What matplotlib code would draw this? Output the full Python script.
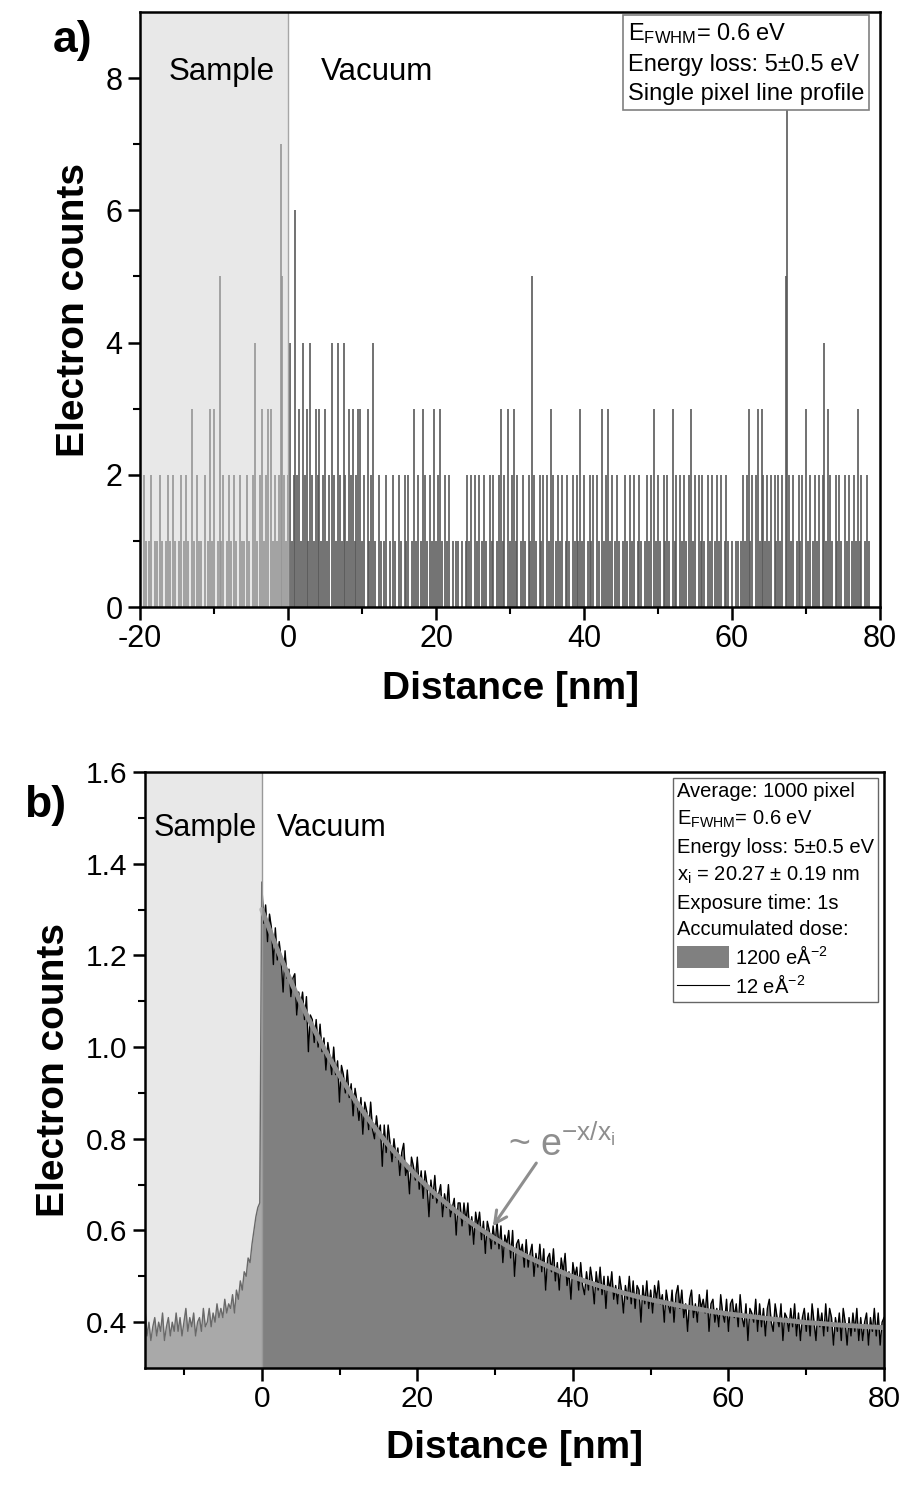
import numpy as np
import matplotlib
matplotlib.use('Agg')
import matplotlib.pyplot as plt
from matplotlib.patches import Patch
from matplotlib.lines import Line2D

plt.rcParams['font.family'] = ['Liberation Sans', 'DejaVu Sans']
plt.rcParams['mathtext.fontset'] = 'custom'
plt.rcParams['mathtext.rm'] = 'Liberation Sans'
plt.rcParams['mathtext.it'] = 'Liberation Sans'
plt.rcParams['axes.unicode_minus'] = False

# a) single pixel line profile, 0.25 nm steps from -20 nm
a_start, a_step = -20.0, 0.25
a_counts = [
    1, 0, 2, 1, 0, 1, 2, 0, 1, 1, 0, 2, 1, 0, 1, 2, 1, 0, 2, 1,
    0, 1, 2, 0, 1, 2, 1, 0, 3, 1, 0, 2, 1, 1, 0, 2, 0, 1, 3, 1,
    3, 0, 1, 5, 1, 2, 0, 1, 2, 1, 0, 2, 1, 0, 2, 1, 1, 0, 2, 1,
    0, 2, 4, 1, 0, 2, 3, 1, 2, 3, 0, 3, 1, 2, 1, 2, 7, 5, 2, 1,
    2, 4, 1, 2, 6, 2, 3, 1, 4, 2, 3, 1, 4, 2, 1, 3, 2, 3, 1, 2,
    3, 1, 2, 0, 4, 2, 1, 4, 2, 1, 4, 2, 1, 3, 2, 3, 1, 2, 3, 3,
    1, 2, 0, 3, 1, 2, 4, 1, 0, 2, 1, 0, 1, 2, 0, 1, 0, 2, 1, 0,
    2, 1, 0, 2, 1, 2, 0, 1, 3, 1, 2, 0, 1, 3, 2, 1, 0, 2, 1, 3,
    1, 2, 3, 1, 0, 2, 1, 2, 0, 1, 0, 1, 1, 0, 1, 0, 1, 2, 1, 2,
    0, 2, 1, 2, 0, 1, 2, 1, 0, 2, 1, 2, 0, 1, 2, 3, 1, 2, 0, 3,
    1, 2, 3, 1, 2, 0, 1, 2, 1, 0, 2, 1, 5, 2, 1, 0, 2, 1, 2, 0,
    2, 1, 3, 2, 0, 1, 2, 1, 2, 0, 1, 2, 1, 0, 2, 1, 2, 1, 3, 1,
    2, 0, 1, 2, 1, 2, 0, 2, 1, 0, 3, 1, 2, 3, 1, 2, 0, 1, 2, 1,
    0, 1, 2, 1, 0, 2, 1, 2, 0, 1, 2, 1, 0, 1, 2, 1, 2, 0, 3, 1,
    2, 1, 0, 2, 1, 2, 1, 0, 3, 1, 2, 0, 2, 1, 2, 1, 0, 2, 3, 1,
    2, 0, 2, 1, 2, 1, 0, 2, 1, 2, 0, 1, 2, 1, 2, 0, 1, 2, 1, 0,
    1, 0, 1, 1, 0, 1, 2, 1, 2, 3, 1, 2, 0, 2, 3, 1, 3, 2, 1, 2,
    1, 2, 0, 2, 1, 2, 1, 2, 0, 5, 8, 2, 1, 2, 0, 1, 2, 1, 2, 0,
    3, 1, 2, 0, 1, 2, 1, 2, 0, 2, 4, 1, 3, 2, 1, 0, 2, 1, 2, 1,
    0, 2, 1, 2, 0, 1, 2, 1, 3, 1, 2, 0, 1, 2, 1,
]

# b) averaged profile (12 e/A^2), 0.25 nm steps from -15 nm
b_start, b_step = -15.0, 0.25
b_sample = [
    0.43, 0.37, 0.40, 0.36, 0.39, 0.41, 0.37, 0.40, 0.38, 0.42, 0.36, 0.39,
    0.41, 0.37, 0.40, 0.38, 0.42, 0.38, 0.41, 0.37, 0.40, 0.43, 0.38, 0.41,
    0.39, 0.42, 0.37, 0.40, 0.41, 0.38, 0.43, 0.39, 0.40, 0.43, 0.39, 0.42,
    0.40, 0.44, 0.41, 0.43, 0.41, 0.45, 0.42, 0.44, 0.43, 0.46, 0.42, 0.47,
    0.45, 0.49, 0.47, 0.51, 0.50, 0.54, 0.53, 0.57, 0.60, 0.63, 0.65, 0.66,
]
b_vacuum = [
    1.36, 1.27, 1.31, 1.23, 1.29, 1.26, 1.18, 1.26, 1.19, 1.23, 1.19, 1.12, 1.21, 1.15, 1.17, 1.11, 1.15, 1.16, 1.07, 1.12,
    1.09, 1.12, 1.06, 1.11, 0.99, 1.07, 1.06, 1.01, 1.06, 1.00, 1.05, 0.99, 1.02, 0.95, 1.01, 0.98, 0.94, 1.00, 0.94, 0.97,
    0.88, 0.96, 0.94, 0.90, 0.95, 0.89, 0.92, 0.85, 0.91, 0.88, 0.84, 0.89, 0.81, 0.88, 0.86, 0.82, 0.88, 0.82, 0.80, 0.85,
    0.81, 0.83, 0.74, 0.83, 0.77, 0.83, 0.79, 0.75, 0.80, 0.76, 0.78, 0.72, 0.77, 0.79, 0.72, 0.74, 0.68, 0.76, 0.74, 0.71,
    0.76, 0.69, 0.73, 0.67, 0.73, 0.70, 0.63, 0.71, 0.67, 0.72, 0.66, 0.68, 0.70, 0.63, 0.68, 0.65, 0.70, 0.63, 0.65, 0.67,
    0.59, 0.66, 0.66, 0.61, 0.66, 0.62, 0.66, 0.59, 0.63, 0.57, 0.64, 0.61, 0.64, 0.58, 0.62, 0.55, 0.62, 0.60, 0.56, 0.61,
    0.57, 0.62, 0.56, 0.61, 0.53, 0.59, 0.57, 0.60, 0.54, 0.60, 0.50, 0.57, 0.58, 0.55, 0.57, 0.52, 0.58, 0.52, 0.55, 0.57,
    0.50, 0.55, 0.52, 0.57, 0.51, 0.56, 0.47, 0.54, 0.55, 0.51, 0.56, 0.49, 0.53, 0.47, 0.54, 0.51, 0.55, 0.48, 0.51, 0.45,
    0.53, 0.50, 0.52, 0.47, 0.53, 0.48, 0.46, 0.51, 0.47, 0.52, 0.49, 0.44, 0.51, 0.47, 0.52, 0.46, 0.50, 0.43, 0.50, 0.47,
    0.51, 0.45, 0.48, 0.44, 0.50, 0.47, 0.42, 0.48, 0.45, 0.50, 0.44, 0.49, 0.43, 0.48, 0.47, 0.40, 0.48, 0.44, 0.49, 0.43,
    0.47, 0.42, 0.48, 0.45, 0.49, 0.44, 0.46, 0.40, 0.47, 0.44, 0.42, 0.47, 0.40, 0.46, 0.48, 0.43, 0.47, 0.41, 0.44, 0.38,
    0.45, 0.47, 0.41, 0.44, 0.40, 0.46, 0.43, 0.45, 0.42, 0.47, 0.38, 0.44, 0.45, 0.40, 0.43, 0.39, 0.46, 0.42, 0.40, 0.45,
    0.38, 0.44, 0.45, 0.41, 0.44, 0.39, 0.46, 0.41, 0.39, 0.44, 0.36, 0.43, 0.42, 0.40, 0.45, 0.38, 0.44, 0.39, 0.43, 0.37,
    0.43, 0.45, 0.40, 0.38, 0.44, 0.41, 0.39, 0.44, 0.36, 0.42, 0.41, 0.38, 0.43, 0.39, 0.44, 0.37, 0.42, 0.36, 0.41, 0.43,
    0.38, 0.42, 0.37, 0.44, 0.40, 0.36, 0.43, 0.39, 0.42, 0.37, 0.44, 0.38, 0.43, 0.41, 0.35, 0.41, 0.38, 0.42, 0.36, 0.43,
    0.40, 0.35, 0.41, 0.37, 0.42, 0.38, 0.43, 0.36, 0.41, 0.36, 0.40, 0.42, 0.35, 0.41, 0.38, 0.43, 0.37, 0.42, 0.35, 0.40,
    0.41,
]

# exponential fit, every 2 nm
fit_step = 2.0
fit_vals = [
    1.300, 1.213, 1.133, 1.062, 0.997, 0.938, 0.884, 0.836, 0.792, 0.753,
    0.717, 0.684, 0.655, 0.628, 0.604, 0.582, 0.562, 0.544, 0.528, 0.513,
    0.499, 0.487, 0.476, 0.466, 0.457, 0.449, 0.442, 0.435, 0.429, 0.423,
    0.418, 0.414, 0.410, 0.406, 0.403, 0.399, 0.397, 0.394, 0.392, 0.390,
    0.388,
]

legend_a = 'E$_{\\mathrm{FWHM}}$= 0.6 eV\nEnergy loss: 5±0.5 eV\nSingle pixel line profile'
legend_b = ('Average: 1000 pixel\nE$_{\\mathrm{FWHM}}$= 0.6 eV\nEnergy loss: 5±0.5 eV\n'
            'x$_{\\mathrm{i}}$ = 20.27 ± 0.19 nm\nExposure time: 1s\nAccumulated dose:')
dose_labels = ['1200 eÅ$^{-2}$', '12 eÅ$^{-2}$']

sample_col = '#d2d2d2'


def style_axes(ax, tick_size):
    for s in ax.spines.values():
        s.set_linewidth(1.8)
        s.set_zorder(10)
    ax.tick_params(which='major', direction='out', length=9, width=1.8, labelsize=tick_size)
    ax.tick_params(which='minor', direction='out', length=5, width=1.5)
    ax.tick_params(top=False, right=False, which='both')


fig = plt.figure(figsize=(9.07, 14.86), dpi=100)

# ---------------- a) ----------------
ax1 = fig.add_axes([0.1544, 0.5915, 0.8158, 0.4004])
xa = a_start + a_step * np.arange(len(a_counts))
ax1.vlines(xa, 0, a_counts, color='0.35', lw=1.2, zorder=2)
ax1.axvspan(-20, 0, color=sample_col, alpha=0.5, lw=0, zorder=3)
ax1.axvline(0, color='0.65', lw=1, zorder=3)
ax1.set_xlim(-20, 80)
ax1.set_ylim(0, 9)
ax1.set_xticks([-20, 0, 20, 40, 60, 80])
ax1.set_xticks(np.arange(-10, 80, 20), minor=True)
ax1.set_yticks([0, 2, 4, 6, 8])
ax1.set_yticks([1, 3, 5, 7], minor=True)
style_axes(ax1, 22)
ax1.set_xlabel('Distance [nm]', fontsize=28, fontweight='bold', labelpad=12)
ax1.set_ylabel('Electron counts', fontsize=28, fontweight='bold', labelpad=10)
ax1.text(-8.9, 8.1, 'Sample', fontsize=22.5, ha='center', va='center', zorder=5)
ax1.text(12.0, 8.1, 'Vacuum', fontsize=22.5, ha='center', va='center', zorder=5)
ax1.text(0.659, 0.985, legend_a, transform=ax1.transAxes, fontsize=17, ha='left', va='top',
         linespacing=1.45, zorder=6,
         bbox=dict(boxstyle='square,pad=0.2', fc='white', ec='0.5', lw=1.2))
fig.text(0.08, 0.973, 'a)', fontsize=32, fontweight='bold', ha='center', va='center')

# ---------------- b) ----------------
ax2 = fig.add_axes([0.1599, 0.0794, 0.8148, 0.4011])
b_counts = b_sample + b_vacuum
xb = b_start + b_step * np.arange(len(b_counts))
xf = fit_step * np.arange(len(fit_vals))
ax2.fill_between(xb, 0, b_counts, color='#808080', lw=0, zorder=1)
ax2.plot(xb, b_counts, color='black', lw=1.0, zorder=2)
ax2.plot(xf, fit_vals, color='#8e8e8e', lw=3.5, solid_capstyle='round', zorder=3)
ax2.axvspan(-15, 0, color=sample_col, alpha=0.5, lw=0, zorder=4)
ax2.axvline(0, color='0.6', lw=1, zorder=4)
ax2.set_xlim(-15, 80)
ax2.set_ylim(0.3, 1.6)
ax2.set_xticks([0, 20, 40, 60, 80])
ax2.set_xticks([-10, 10, 30, 50, 70], minor=True)
ax2.set_yticks([0.4, 0.6, 0.8, 1.0, 1.2, 1.4, 1.6])
ax2.set_yticks([0.5, 0.7, 0.9, 1.1, 1.3, 1.5], minor=True)
ax2.yaxis.set_major_formatter(matplotlib.ticker.FormatStrFormatter('%.1f'))
style_axes(ax2, 21.5)
ax2.set_xlabel('Distance [nm]', fontsize=28, fontweight='bold', labelpad=12)
ax2.set_ylabel('Electron counts', fontsize=28, fontweight='bold', labelpad=10)
ax2.text(-7.3, 1.478, 'Sample', fontsize=22, ha='center', va='center', zorder=5)
ax2.text(9.0, 1.478, 'Vacuum', fontsize=22, ha='center', va='center', zorder=5)
ax2.annotate('', xy=(29.5, 0.604), xytext=(35.5, 0.752),
             arrowprops=dict(arrowstyle='->', color='#8e8e8e', lw=2.2, mutation_scale=22), zorder=6)
ax2.text(31.6, 0.763, '~ e$^{\\mathrm{-x/x_i}}$', fontsize=27, color='#8e8e8e',
         ha='left', va='baseline', zorder=6)

handles = [Patch(facecolor='#808080', edgecolor='none'), Line2D([], [], color='black', lw=0.8)]
leg = ax2.legend(handles, dose_labels, loc='upper right', title=legend_b, alignment='left',
                 fontsize=14.5, title_fontsize=14.5, frameon=True, fancybox=False,
                 edgecolor='0.4', framealpha=1, borderaxespad=0.3, borderpad=0.2,
                 handlelength=2.6, handleheight=1.3, handletextpad=0.3, labelspacing=0.3)
leg.get_title().set_linespacing(1.5)
leg.get_frame().set_linewidth(1.0)
leg.set_zorder(20)
fig.text(0.05, 0.458, 'b)', fontsize=32, fontweight='bold', ha='center', va='center')

fig.savefig('out.png', dpi=100)
